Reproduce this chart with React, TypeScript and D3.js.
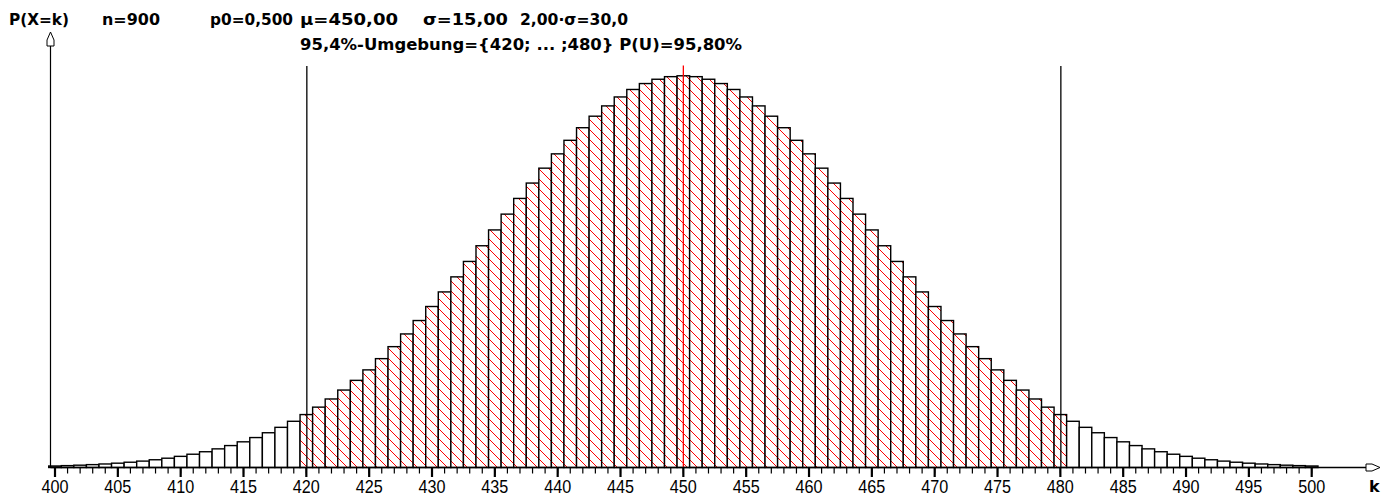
import * as d3 from "d3";

// binomial n=900, p0=0.5 -- bar heights, k = 400..500
const kValues = d3.range(400, 501);
const probs = [
  0.000102, 0.000127, 0.000157, 0.000195, 0.000239, 0.000293, 0.000358, 0.000434, 0.000525, 0.000631,
  0.000756, 0.000901, 0.00107, 0.001265, 0.001488, 0.001743, 0.002032, 0.002359, 0.002726, 0.003137,
  0.003593, 0.004097, 0.004651, 0.005257, 0.005915, 0.006626, 0.007389, 0.008203, 0.009066, 0.009976,
  0.010928, 0.011918, 0.01294, 0.013987, 0.015052, 0.016126, 0.017199, 0.018264, 0.019307, 0.020319,
  0.02129, 0.022209, 0.023064, 0.023846, 0.024545, 0.025152, 0.02566, 0.026062, 0.026354, 0.02653,
  0.026589,
  0.02653, 0.026354, 0.026062, 0.02566, 0.025152, 0.024545, 0.023846, 0.023064, 0.022209, 0.02129,
  0.020319, 0.019307, 0.018264, 0.017199, 0.016126, 0.015052, 0.013987, 0.01294, 0.011918, 0.010928,
  0.009976, 0.009066, 0.008203, 0.007389, 0.006626, 0.005915, 0.005257, 0.004651, 0.004097, 0.003593,
  0.003137, 0.002726, 0.002359, 0.002032, 0.001743, 0.001488, 0.001265, 0.00107, 0.000901, 0.000756,
  0.000631, 0.000525, 0.000434, 0.000358, 0.000293, 0.000239, 0.000195, 0.000157, 0.000127, 0.000102,
];
const majorTicks = [400, 405, 410, 415, 420, 425, 430, 435, 440, 445, 450, 455, 460, 465, 470, 475, 480, 485, 490, 495, 500];
const minorTicks = d3.range(400, 501);
const muValue = 450;
const envLow = 420;
const envHigh = 480;

const headerLine1 = [
  { text: "P(X=k)", x: 9, w: 60 },
  { text: "n=900", x: 102, w: 58 },
  { text: "p0=0,500", x: 210, w: 83 },
  { text: "μ=450,00", x: 300, w: 98 },
  { text: "σ=15,00", x: 423, w: 85 },
  { text: "2,00·σ=30,0", x: 520, w: 108 },
];
const headerLine2 = { text: "95,4%-Umgebung={420; ... ;480} P(U)=95,80%", x: 300, w: 442 };

const width = 1396;
const height = 497;
const baseY = 467.5;
const axisX = 50.5;

const App = () => {
  const xScale = d3.scaleLinear().domain([400, 500]).range([55, 1311.7]);
  const yScale = d3.scaleLinear().domain([0, 0.028]).range([baseY, 55]);
  const bw = xScale(401) - xScale(400);

  const boldFont = "'DejaVu Sans', sans-serif";

  return (
    <svg
      width={width}
      height={height}
      style={{ position: "absolute", left: 0, top: 0, background: "#fff" }}
    >
      <defs>
        <pattern id="hatch" patternUnits="userSpaceOnUse" width="10" height="10">
          <rect width="10" height="10" fill="#fff" />
          <path
            d="M0,0 L10,10 M-2.5,7.5 L2.5,12.5 M7.5,-2.5 L12.5,2.5"
            stroke="#ff0000"
            strokeWidth="1"
          />
        </pattern>
      </defs>

      {/* header */}
      <g fontFamily={boldFont} fontWeight="bold" fontSize="16" fill="#000">
        {headerLine1.map((h) => (
          <text key={h.text} x={h.x} y={24.5} textLength={h.w} lengthAdjust="spacingAndGlyphs">
            {h.text}
          </text>
        ))}
        <text x={headerLine2.x} y={49.5} textLength={headerLine2.w} lengthAdjust="spacingAndGlyphs">
          {headerLine2.text}
        </text>
      </g>

      {/* bars */}
      <g>
        {kValues.map((k, i) => {
          const inEnv = k >= envLow && k <= envHigh;
          return (
            <rect
              key={k}
              x={xScale(k) - bw / 2}
              y={yScale(probs[i])}
              width={bw}
              height={baseY - yScale(probs[i])}
              fill={inEnv ? "url(#hatch)" : "#fff"}
              stroke="#000"
              strokeWidth="1.4"
            />
          );
        })}
      </g>

      {/* environment borders and mean */}
      <line x1={xScale(envLow) + 0.5} x2={xScale(envLow) + 0.5} y1={66} y2={baseY} stroke="#000" strokeWidth="1.3" />
      <line x1={xScale(envHigh) + 0.5} x2={xScale(envHigh) + 0.5} y1={66} y2={baseY} stroke="#000" strokeWidth="1.3" />
      <line x1={xScale(muValue)} x2={xScale(muValue)} y1={65.5} y2={baseY} stroke="#ff0000" strokeWidth="1.3" />

      {/* axes */}
      <line x1={axisX} x2={axisX} y1={46} y2={baseY} stroke="#000" strokeWidth="1.2" />
      <path
        d={`M${axisX},32 L${axisX + 3.5},40 L${axisX + 3.5},46 L${axisX - 3.5},46 L${axisX - 3.5},40 Z`}
        fill="#fff"
        stroke="#000"
        strokeWidth="1"
      />
      <line x1={axisX} x2={1366} y1={baseY} y2={baseY} stroke="#000" strokeWidth="1.3" />
      <path
        d={`M1366,${baseY - 3.5} L1372,${baseY - 3.5} L1380,${baseY} L1372,${baseY + 3.5} L1366,${baseY + 3.5} Z`}
        fill="#fff"
        stroke="#000"
        strokeWidth="1"
      />
      {minorTicks.map((t) => (
        <line key={"m" + t} x1={xScale(t)} x2={xScale(t)} y1={baseY} y2={473.5} stroke="#000" strokeWidth="1.2" />
      ))}
      {majorTicks.map((t) => (
        <g key={"M" + t}>
          <line x1={xScale(t)} x2={xScale(t)} y1={baseY} y2={477} stroke="#000" strokeWidth="2.2" />
          <text
            x={xScale(t) - 13.5}
            y={493}
            fontFamily="'Liberation Sans', Arial, sans-serif"
            fontSize="18"
            textLength={27}
            lengthAdjust="spacingAndGlyphs"
            fill="#000"
          >
            {t}
          </text>
        </g>
      ))}
      <text x={1369} y={492} fontFamily={boldFont} fontWeight="bold" fontSize="16" fill="#000">
        k
      </text>
    </svg>
  );
};

export default App;
